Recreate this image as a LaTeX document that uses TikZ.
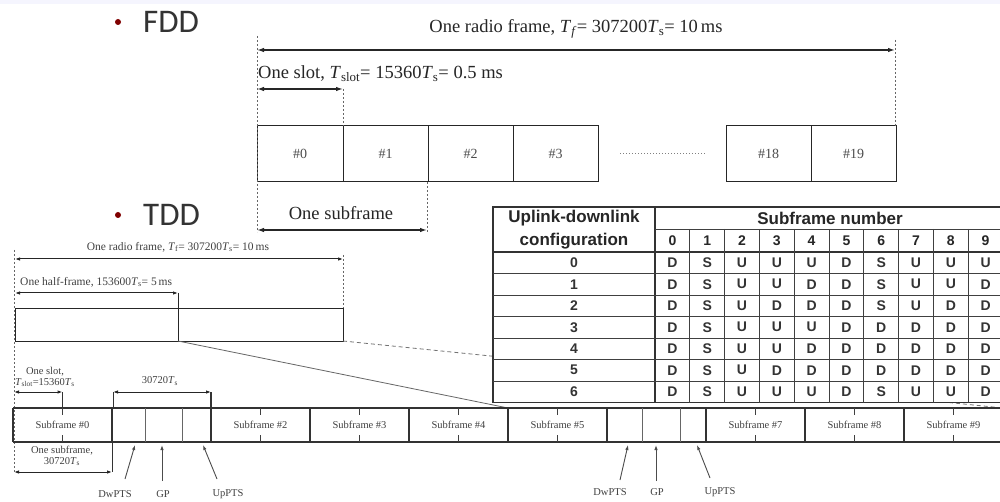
\documentclass[tikz,border=0pt]{standalone}
\usepackage{fontspec}
\setmainfont{Liberation Serif}
\newfontfamily\bulfont{Carlito}
\newfontfamily\tabfont{Liberation Sans}
\usetikzlibrary{arrows.meta}
\begin{document}
\begin{tikzpicture}[x=1pt,y=-1pt,
  dimbig/.style={{Latex[length=7pt,width=4.5pt]}-{Latex[length=7pt,width=4.5pt]}, line width=1.3pt, draw=black!85},
  dimsmall/.style={{Latex[length=5pt,width=3.5pt]}-{Latex[length=5pt,width=3.5pt]}, line width=1pt, draw=black!85},
  guide/.style={dash pattern=on 2pt off 2pt, line width=0.6pt, draw=black!60},
  cellbox/.style={draw=black!85, line width=1pt},
  pointer/.style={-{Latex[length=5pt,width=3.5pt]}, line width=0.9pt, draw=black!70},
  bigtxt/.style={font=\fontsize{18.5}{18.5}\selectfont, text=black!85, inner sep=0pt},
  smalltxt/.style={font=\fontsize{10.5}{11}\selectfont, text=black!75, inner sep=0pt, align=center},
  bullettxt/.style={font=\bulfont\fontsize{33}{33}\selectfont, text=black!80, inner sep=0pt, anchor=west},
  tabhead/.style={font=\tabfont\bfseries\fontsize{17}{17}\selectfont, text=black!85, inner sep=0pt},
  tabcell/.style={font=\tabfont\bfseries\fontsize{14}{14}\selectfont, text=black!80, inner sep=0pt}
]
\useasboundingbox (0,0) rectangle (1000,502);
\fill[white] (0,0) rectangle (1000,502);
\fill[red!6!blue!4] (0,0) rectangle (1000,4);

% ---------------- FDD ----------------
\fill[red!50!black] (118,22) circle (3);
\node[bullettxt] (fdd) at (143,22) {FDD};

\coordinate (fl) at (257,50); \coordinate (fr) at (895,50);
\node[bigtxt] (ftitle) at (576,29) {One radio frame, \textit{T}\textsubscript{\textit{f}}= 307200\textit{T}\textsubscript{s}= 10\,ms};
\draw[dimbig] (fl) -- (fr);
\node[bigtxt, anchor=west] (fslot) at (258,74) {One slot, \textit{T}\textsubscript{slot}= 15360\textit{T}\textsubscript{s}= 0.5 ms};
\coordinate (sl) at (257,89); \coordinate (sr) at (343,89);
\draw[dimbig] (sl) -- (sr);

\foreach \a/\b/\t in {257/343/0, 343/428/1, 428/513/2, 513/598/3, 726/811/18, 811/896/19}{
  \draw[cellbox] (\a,126) rectangle (\b,182);
  \node[bigtxt, font=\fontsize{14}{14}\selectfont, text=black!70] (f\t) at ({(\a+\b)/2},154) {\#\t};
}
\draw[dotted, line width=1pt, draw=black!50] (620,154) -- (705,154);

\draw[guide] (257,36) -- (257,232);
\draw[guide] (343,89) -- (343,126);
\draw[guide] (895,40) -- (895,126);
\draw[guide] (427,182) -- (427,232);
\node[bigtxt] (fsub) at (341,213) {One subframe};
\coordinate (bl) at (257,230); \coordinate (br) at (427,230);
\draw[dimbig] (bl) -- (br);

% ---------------- TDD ----------------
\fill[red!50!black] (118,215) circle (3);
\node[bullettxt] (tdd) at (143,215) {TDD};

\node[smalltxt, font=\fontsize{11.5}{11.5}\selectfont] (ttitle) at (178,247) {One radio frame, \textit{T}\textsubscript{f}= 307200\textit{T}\textsubscript{s}= 10\,ms};
\coordinate (tl) at (15,259); \coordinate (tr) at (343,259);
\draw[dimsmall] (tl) -- (tr);
\node[smalltxt, font=\fontsize{11.5}{11.5}\selectfont, anchor=west] (thalf) at (20,282) {One half-frame, 153600\textit{T}\textsubscript{s}= 5\,ms};
\coordinate (hl) at (15,293); \coordinate (hr) at (178,293);
\draw[dimsmall] (hl) -- (hr);
\draw[cellbox] (15,308) rectangle (343,341);
\draw[cellbox] (178,293) -- (178,341);
\draw[guide] (14,250) -- (14,472);
\draw[guide] (343,255) -- (343,308);

% zoom lines
\coordinate (za) at (178,341); \coordinate (zb) at (508,408);
\coordinate (zc) at (343,341); \coordinate (zd) at (1003,408);
\draw[line width=0.8pt, draw=black!60] (za) -- (zb);
\draw[line width=0.8pt, draw=black!55, dash pattern=on 4pt off 3pt] (zc) -- (zd);

% subframe row
\draw[line width=1.3pt, draw=black!80] (13,408) -- (1003,408);
\draw[line width=1.3pt, draw=black!80] (13,442) -- (1003,442);
\foreach \x in {13,112,211,310,409,508,607,706,805,904}{
  \draw[line width=1.3pt, draw=black!80] (\x,408) -- (\x,442);
}
\foreach \x in {145,182,642,680}{
  \draw[line width=0.8pt, draw=black!60] (\x,408) -- (\x,442);
}
\foreach \n/\x in {0/62.5, 2/260.5, 3/359.5, 4/458.5, 5/557.5, 7/755.5, 8/854.5, 9/953.5}{
  \draw[line width=1pt, draw=black!75] (\x,408) -- (\x,415);
  \draw[line width=1pt, draw=black!75] (\x,435) -- (\x,442);
  \node[smalltxt] (sf\n) at (\x,425) {Subframe \#\n};
}

% slot dimension
\node[smalltxt] (tslot) at (45,377) {One slot,\\\textit{T}\textsubscript{slot}=15360\textit{T}\textsubscript{s}};
\coordinate (ql) at (14,392); \coordinate (qr) at (62.5,392);
\draw[dimsmall] (ql) -- (qr);
\draw[line width=1pt, draw=black!80] (qr) -- (62.5,408);

% special subframe dimension
\node[smalltxt] (tsp) at (160,381) {30720\textit{T}\textsubscript{s}};
\coordinate (pl) at (113,392); \coordinate (pr) at (211,392);
\draw[dimsmall] (pl) -- (pr);
\draw[line width=1pt, draw=black!80] (pl) -- (113,408);
\draw[line width=1.3pt, draw=black!80] (pr) -- (211,408);

% one subframe below
\node[smalltxt] (tsub) at (62,456) {One subframe,\\30720\textit{T}\textsubscript{s}};
\coordinate (ul) at (14,472); \coordinate (ur) at (112,472);
\draw[dimsmall] (ul) -- (ur);
\draw[line width=1pt, draw=black!80] (112,442) -- (ur);

% pointers
\node[smalltxt] (dw1) at (115,494) {DwPTS};
\node[smalltxt] (gp1) at (163,494) {GP};
\node[smalltxt] (up1) at (228,494) {UpPTS};
\coordinate (dw1t) at (135,445); \coordinate (gp1t) at (162,445); \coordinate (up1t) at (203,445);
\draw[pointer] (125,479) -- (dw1t);
\draw[pointer] (162,481) -- (gp1t);
\draw[pointer] (217,479) -- (up1t);

\node[smalltxt] (dw2) at (610,492) {DwPTS};
\node[smalltxt] (gp2) at (657,492) {GP};
\node[smalltxt] (up2) at (720,492) {UpPTS};
\coordinate (dw2t) at (628,445); \coordinate (gp2t) at (656,445); \coordinate (up2t) at (697,445);
\draw[pointer] (620,480) -- (dw2t);
\draw[pointer] (656,481) -- (gp2t);
\draw[pointer] (710,478) -- (up2t);

% ---------------- table ----------------
\fill[white] (493,207) rectangle (1004,402.5);
\draw[line width=1.3pt, draw=black!80] (493,207) rectangle (1004,402.5);
\draw[line width=1.1pt, draw=black!80] (655,207) -- (655,402.5);
\draw[line width=0.9pt, draw=black!75] (655,229) -- (1004,229);
\draw[line width=1.1pt, draw=black!80] (493,252) -- (1004,252);
\foreach \r in {1,...,6}{
  \draw[line width=0.9pt, draw=black!75] (493,{252+21.5*\r}) -- (1004,{252+21.5*\r});
}
\foreach \k in {1,...,9}{
  \draw[line width=0.9pt, draw=black!75] ({655+34.8*\k},229) -- ({655+34.8*\k},402.5);
}
\node[tabhead] (h1) at (574,218) {Uplink-downlink};
\node[tabhead] (h2) at (574,241) {configuration};
\node[tabhead] (h3) at (830,218) {Subframe number};
\foreach \k in {0,...,9}{
  \node[tabhead, font=\tabfont\bfseries\fontsize{14}{14}\selectfont] (n\k) at ({655+34.8*\k+17.4},241) {\k};
}
\foreach \r/\row in {0/{D,S,U,U,U,D,S,U,U,U},
                     1/{D,S,U,U,D,D,S,U,U,D},
                     2/{D,S,U,D,D,D,S,U,D,D},
                     3/{D,S,U,U,U,D,D,D,D,D},
                     4/{D,S,U,U,D,D,D,D,D,D},
                     5/{D,S,U,D,D,D,D,D,D,D},
                     6/{D,S,U,U,U,D,S,U,U,D}}{
  \node[tabcell] (r\r) at (574,{262.75+21.5*\r}) {\r};
  \foreach \v [count=\c from 0] in \row {
    \node[tabcell] (c\r-\c) at ({655+34.8*\c+17.4},{262.75+21.5*\r}) {\v};
  }
}
\end{tikzpicture}
\end{document}
